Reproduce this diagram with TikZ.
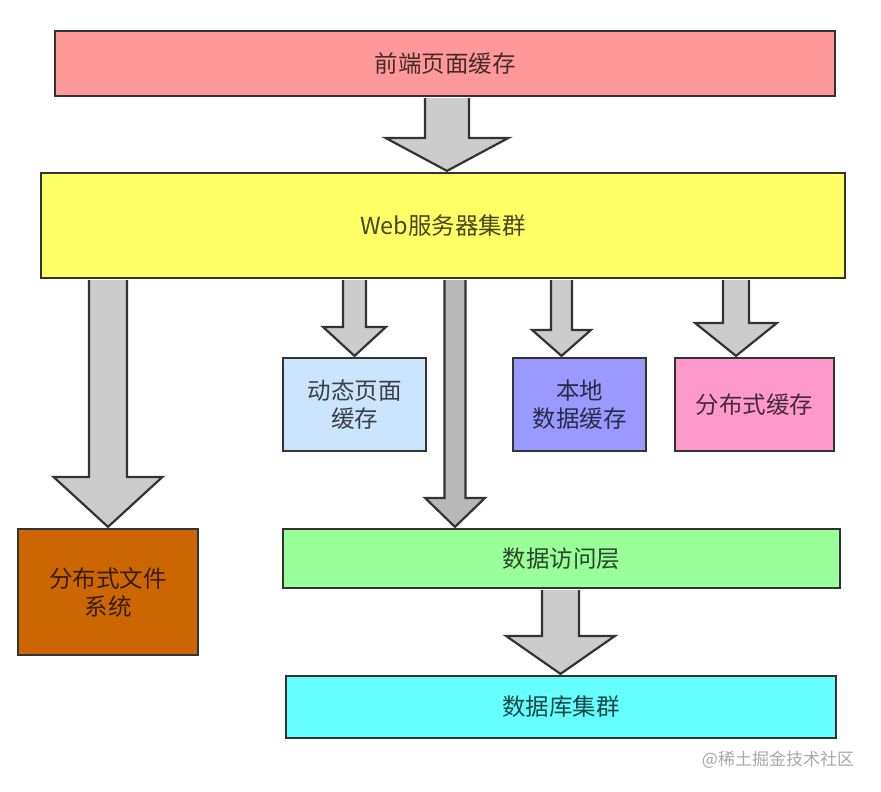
\documentclass[tikz,border=0pt]{standalone}
\usepackage{fontspec}
\setmainfont{Noto Sans CJK SC}
\usetikzlibrary{calc}
\definecolor{bordc}{HTML}{333333}
\definecolor{arrowc}{HTML}{CCCCCC}
\definecolor{arrowd}{HTML}{B8B8B8}
\definecolor{cfront}{HTML}{FF9999}
\definecolor{cweb}{HTML}{FFFF66}
\definecolor{cdfs}{HTML}{CC6600}
\definecolor{cdyn}{HTML}{CCE5FF}
\definecolor{clocal}{HTML}{9999FF}
\definecolor{cdcache}{HTML}{FF99CC}
\definecolor{cdal}{HTML}{99FF99}
\definecolor{cdb}{HTML}{66FFFF}
\definecolor{wmc}{HTML}{A8A8A8}
\tikzset{
  box/.style={draw=bordc, line width=2.2pt, inner sep=0pt, align=center,
    text=black, text opacity=0.72, font=\fontsize{23.5}{28}\selectfont},
  barrow/.style={draw=bordc, fill=arrowc, line width=2.2pt, line join=miter},
}
\newcommand\barrow[7][]{%
  \filldraw[barrow,#1] let \p1=(#2,0), \p2=(#3.south), \p3=(#4.north) in
  (\x1-#5pt,\y2-1.1pt) -- (\x1-#5pt,\y3+#7pt) -- (\x1-#6pt,\y3+#7pt) -- (\x1,\y3+1pt)
  -- (\x1+#6pt,\y3+#7pt) -- (\x1+#5pt,\y3+#7pt) -- (\x1+#5pt,\y2-1.1pt);}
\begin{document}
\begin{tikzpicture}[x=1pt,y=-1pt]
\useasboundingbox (0,0) rectangle (881,792);
\node[box, fill=cfront, minimum width=780pt, minimum height=65pt] (front) at (445,63.5) {前端页面缓存};
\node[box, fill=cweb, minimum width=804pt, minimum height=105pt] (web) at (443,225.5) {Web服务器集群};
\node[box, fill=cdfs, minimum width=180pt, minimum height=126pt] (dfs) at (108,592) {分布式文件\\系统};
\node[box, fill=cdyn, minimum width=143pt, minimum height=93pt] (dyn) at (354.5,404.5) {动态页面\\缓存};
\node[box, fill=clocal, minimum width=133pt, minimum height=93pt] (local) at (579.5,404.5) {本地\\数据缓存};
\node[box, fill=cdcache, minimum width=159pt, minimum height=93pt] (dcache) at (754.5,404.5) {分布式缓存};
\node[box, fill=cdal, minimum width=557pt, minimum height=59pt] (dal) at (561.5,558.5) {数据访问层};
\node[box, fill=cdb, minimum width=550pt, minimum height=62pt] (db) at (561,707) {数据库集群};
\node[font=\fontsize{17}{17}\selectfont, text=wmc, inner sep=0pt] (wm) at (778,760) {@稀土掘金技术社区};
% block arrows: x-centre, from, to, shaft half-width, head half-width, head length
\barrow{447}{front}{web}{22}{61.5}{34}
\barrow{108}{web}{dfs}{19}{54.5}{51}
\barrow{354.5}{web}{dyn}{11.5}{31.5}{30}
\barrow[fill=arrowd]{455}{web}{dal}{10.5}{30}{30}
\barrow{561.5}{web}{local}{10.5}{29.5}{27}
\barrow{736}{web}{dcache}{13}{41}{34}
\barrow{560.5}{dal}{db}{18.5}{54.5}{39}
\end{tikzpicture}
\end{document}
